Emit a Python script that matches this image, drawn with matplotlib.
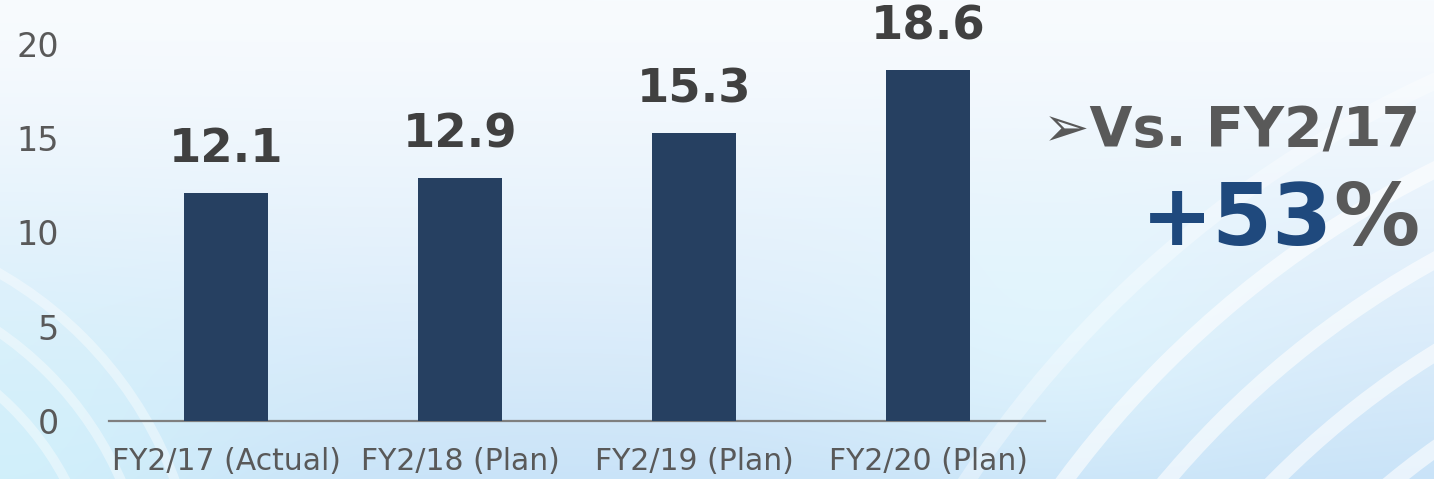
import matplotlib
matplotlib.use("Agg")
import matplotlib.pyplot as plt
import numpy as np
from matplotlib.patches import Arc

categories = ["FY2/17 (Actual)", "FY2/18 (Plan)", "FY2/19 (Plan)", "FY2/20 (Plan)"]
values = [12.1, 12.9, 15.3, 18.6]
value_labels = ["12.1", "12.9", "15.3", "18.6"]
yticks = [0, 5, 10, 15, 20]

W, H = 1434, 479
fig = plt.figure(figsize=(W / 100, H / 100), dpi=100)

# background
bg = fig.add_axes([0, 0, 1, 1], zorder=-5)
bg.set_xlim(0, W)
bg.set_ylim(H, 0)
bg.axis("off")
yy, xx = np.mgrid[0:H, 0:W]
t = (yy / H) ** 1.3
top = np.array([0xF8, 0xFB, 0xFE]) / 255
bot = np.array([0xC9, 0xE3, 0xF8]) / 255
img = top[None, None, :] * (1 - t[..., None]) + bot[None, None, :] * t[..., None]
cy = np.array([0xD6, 0xF7, 0xFC]) / 255
d = np.exp(-(((xx - 0) / 250.0) ** 2 + ((yy - 470) / 200.0) ** 2))
img = img * (1 - 0.6 * d[..., None]) + cy * 0.6 * d[..., None]
d2 = np.exp(-(((xx - 1050) / 220.0) ** 2 + ((yy - 330) / 140.0) ** 2))
img = img * (1 - 0.45 * d2[..., None]) + np.array([0.9, 0.99, 1.0]) * 0.45 * d2[..., None]
bg.imshow(img, extent=[0, W, H, 0], aspect="auto")
for r, a in [(1120, 0.35), (1040, 0.6), (960, 0.6), (880, 0.6), (800, 0.6), (720, 0.6), (640, 0.6)]:
    bg.add_patch(Arc((1900, 1100), 2 * r, 2 * r, theta1=0, theta2=360,
                     color="white", lw=12, alpha=a))
for r in [300, 350, 400]:
    bg.add_patch(Arc((-200, 620), 2 * r, 2 * r, theta1=0, theta2=360,
                     color="white", lw=7, alpha=0.4))

ax = fig.add_axes([109 / W, 1 - 421 / H, (1045 - 109) / W, (421 - 44) / H])
ax.patch.set_alpha(0)
x = np.arange(len(categories))
ax.bar(x, values, width=0.355, color="#264061", zorder=3)
ax.set_xlim(-0.5, len(categories) - 0.5)
ax.set_ylim(0, 20)
ax.set_yticks(yticks)
ax.set_yticklabels([str(v) for v in yticks])
ax.set_xticks(x)
ax.set_xticklabels(categories)
for s in ["top", "right", "left"]:
    ax.spines[s].set_visible(False)
ax.spines["bottom"].set_color("#7F7F7F")
ax.spines["bottom"].set_linewidth(1.6)
ax.tick_params(axis="y", length=0, pad=36, labelsize=24, labelcolor="#595959")
ax.tick_params(axis="x", length=0, pad=19, labelsize=21.5, labelcolor="#595959")

for xi, v, lab in zip(x, values, value_labels):
    ax.annotate(lab, (xi, v), xytext=(0, 22), textcoords="offset points",
                ha="center", va="baseline", fontsize=33.5, fontweight="bold",
                color="#404040")

fig.text(1420 / W, 1 - 147 / H, "\u27a2Vs. FY2/17", ha="right", va="baseline",
         fontsize=40, fontweight="bold", color="#595959")
fig.text(1333 / W, 1 - 245 / H, "+53", ha="right", va="baseline",
         fontsize=62, fontweight="bold", color="#1F497D")
fig.text(1333 / W, 1 - 245 / H, "%", ha="left", va="baseline",
         fontsize=62, fontweight="bold", color="#595959")

fig.savefig("out.png", dpi=100)
